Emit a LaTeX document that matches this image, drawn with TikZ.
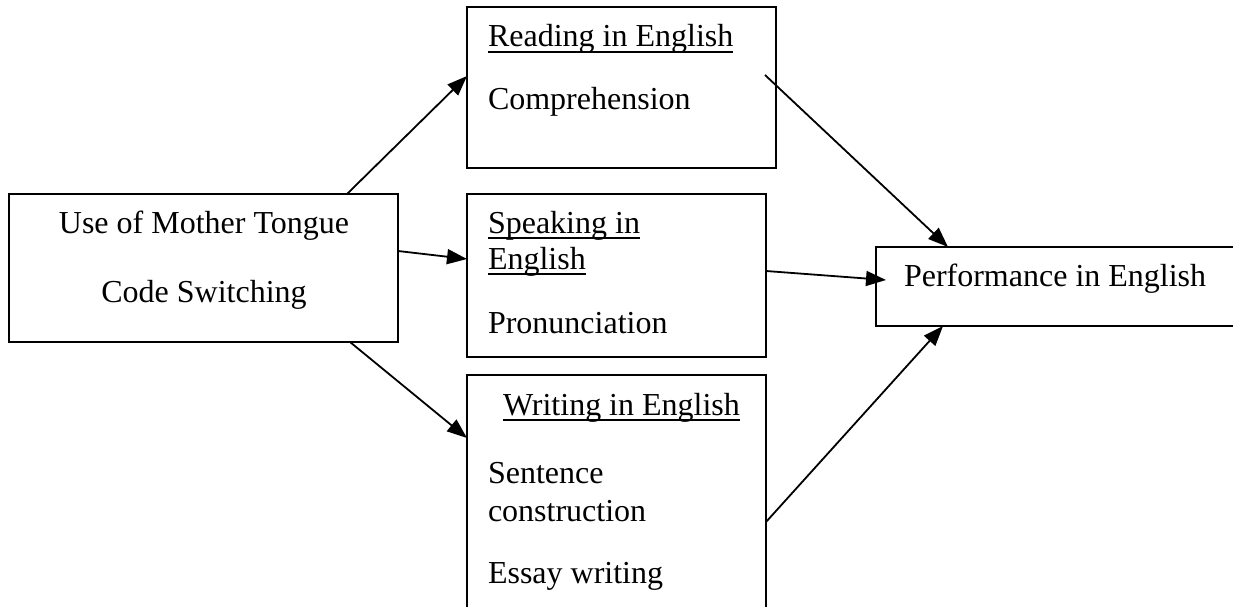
\documentclass[tikz,border=0pt]{standalone}
\usepackage{fontspec}
\setmainfont{Liberation Serif}
\usetikzlibrary{arrows.meta}
\tikzset{
  box/.style={draw, line width=2.2pt, rectangle, inner sep=0pt, outer sep=0pt},
  txt/.style={inner sep=0pt, outer sep=0pt, anchor=base west, font=\fontsize{32}{37}\selectfont},
  ctxt/.style={inner sep=0pt, outer sep=0pt, anchor=base, font=\fontsize{32}{37}\selectfont},
  conn/.style={line width=1.8pt, -{Triangle[length=20pt,width=15pt]}},
  ul/.style={line width=2pt}
}
\begin{document}
\begin{tikzpicture}[x=1pt,y=-1pt]
\clip (0,0) rectangle (1233,607);
\fill[white] (0,0) rectangle (1233,607);
% boxes
\node[box, minimum width=389pt, minimum height=148pt] (mt) at (203.5,268) {};
\node[box, minimum width=309pt, minimum height=161pt] (rd) at (621.5,87.5) {};
\node[box, minimum width=299pt, minimum height=163pt] (sp) at (616.5,275.5) {};
\node[box, minimum width=299pt, minimum height=265pt] (wr) at (616.5,507.5) {};
\node[box, minimum width=374pt, minimum height=79pt] (pf) at (1063,286.5) {};
% texts
\node[ctxt] (mt1) at (204,233) {Use of Mother Tongue};
\node[ctxt] (mt2) at (204,302) {Code Switching};
\node[txt] (rdh) at (488,47) {Reading in English};
\node[txt] (rd1) at (488,110) {Comprehension};
\node[txt] (sph1) at (488,233) {Speaking in};
\node[txt] (sph2) at (488,269) {English};
\node[txt] (sp1) at (488,333) {Pronunciation};
\node[txt] (wrh) at (503,415) {Writing in English};
\node[txt] (wr1) at (488,483) {Sentence};
\node[txt] (wr2) at (488,521) {construction};
\node[txt] (wr3) at (488,583) {Essay writing};
\node[txt] (pft) at (904,286) {Performance in English};
% underlines
\draw[ul] ([yshift=-5pt]rdh.base west) -- ([yshift=-5pt]rdh.base east);
\draw[ul] ([yshift=-5pt]sph1.base west) -- ([yshift=-5pt]sph1.base east);
\draw[ul] ([yshift=-5pt]sph2.base west) -- ([yshift=-5pt]sph2.base east);
\draw[ul] ([yshift=-5pt]wrh.base west) -- ([yshift=-5pt]wrh.base east);
% connectors
\draw[conn] ([xshift=-51pt]mt.north east) -- ([yshift=11.5pt]rd.west);
\draw[conn] ([yshift=17pt]mt.east) -- ([yshift=16.5pt]sp.west);
\draw[conn] ([xshift=-48pt]mt.south east) -- ([yshift=-63pt]wr.north west);
\draw[conn] ([xshift=-11pt,yshift=12.5pt]rd.east) -- ([xshift=72pt]pf.north west);
\draw[conn] ([yshift=4.5pt]sp.east) -- ([xshift=10pt,yshift=6.5pt]pf.west);
\draw[conn] ([yshift=-147pt]wr.north east) -- ([xshift=67pt]pf.south west);
\end{tikzpicture}
\end{document}
